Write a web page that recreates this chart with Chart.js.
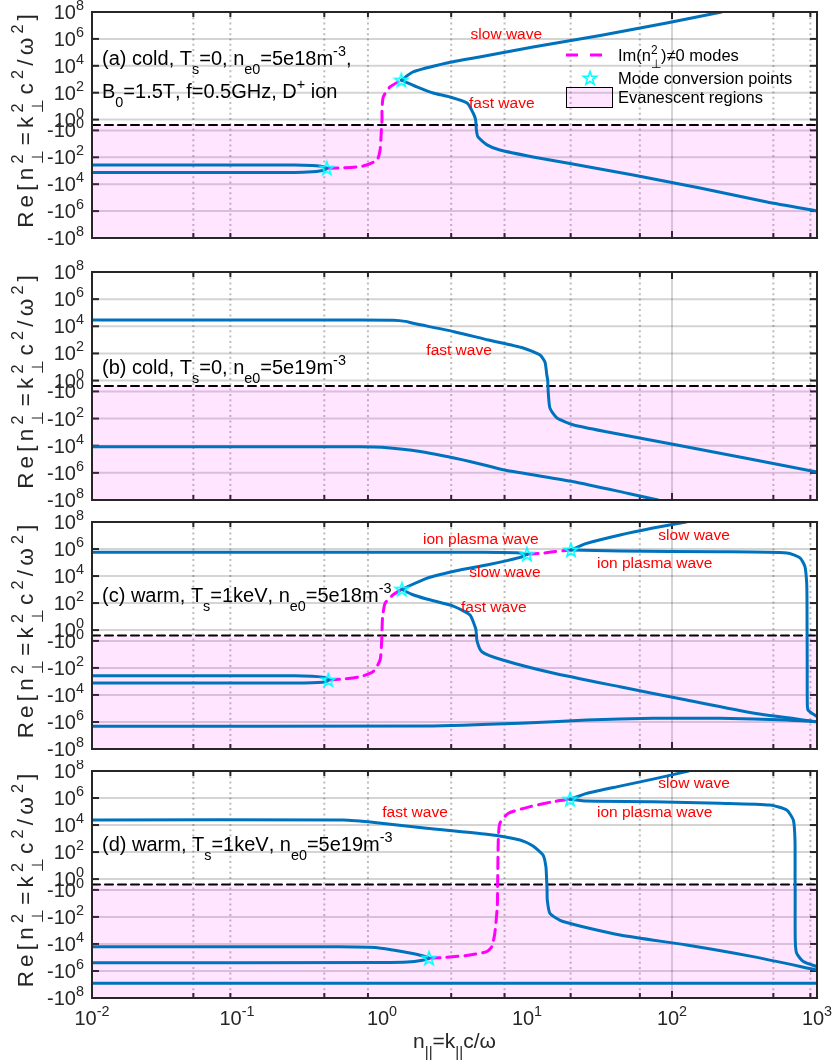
<!DOCTYPE html>
<html>
<head>
<meta charset="utf-8">
<script src="https://cdn.jsdelivr.net/npm/chart.js@4.4.1/dist/chart.umd.min.js"></script>
<style>
  html, body { margin: 0; padding: 0; background: #fff; }
  #fig { position: relative; width: 834px; height: 1064px; overflow: hidden; }
  #fig canvas { position: absolute; left: 0; }
</style>
</head>
<body>
<div id="fig"></div>
<script>
// axis decades (x is log10 of n_par, y is signed decades of Re n_perp^2)
const xDecades = [-2, -1, 0, 1, 2, 3];
const yDecades = [0, 2, 4, 6, 8];

// (a) cold, n_e0 = 5e18
const aSlowX = [1.36, 1.64, 2.8, 4.7, 11, 32, 92, 220];
const aSlowY = [8.5e2, 3.5e3, 1.6e4, 4.5e4, 2.5e5, 1.8e6, 1.5e7, 1e8];
const aFastX = [1.36, 1.74, 2.25, 2.94, 3.86, 4.25, 4.42, 4.48, 4.59, 5.3, 6.5, 11, 18.9, 54, 156, 452, 1000];
const aFastY = [8.5e2, 2.7e2, 95, 48, 17, 3.1, 1, -1, -3.1, -12, -29, -95, -2.7e2, -2.1e3, -1.9e4, -2.1e5, -9.8e5];
const aNoseX = [0.01, 0.25, 0.33, 0.38, 0.405, 0.416, 0.405, 0.38, 0.33, 0.25, 0.01];
const aNoseY = [-370, -372, -400, -460, -540, -660, -820, -1000, -1200, -1340, -1350];
const aImX = [0.416, 0.513, 0.74, 0.925, 0.97, 0.99, 1.0, 1.0, 1.02, 1.135, 1.36];
const aImY = [-660, -630, -450, -160, -29, -1, 1, 5.2, 48, 270, 850];
const aStarX = [0.416, 1.36];
const aStarY = [-660, 850];

// (b) cold, n_e0 = 5e19
const bFastX = [0.01, 0.7, 1.2, 1.45, 1.64, 3.14, 5.4, 9.4, 12.3, 13.3, 13.7, 13.9, 14.0, 14.4, 16.1, 21, 36, 108, 318, 1000];
const bFastY = [2.9e4, 2.9e4, 2.8e4, 2.3e4, 1.66e4, 4e3, 980, 250, 76, 23, 2.6, 1, -1, -17, -91, -300, -980, -8.9e3, -8.1e4, -8.7e5];
const bLowX = [0.01, 0.7, 1.0, 1.83, 4.1, 7.0, 21, 50, 80];
const bLowY = [-1.2e4, -1.2e4, -1.3e4, -2.7e4, -1.5e5, -6.2e5, -4.5e6, -3.3e7, -1e8];

// (c) warm, n_e0 = 5e18
const cIonLX = [0.01, 5, 8.5, 10.0];
const cIonLY = [5.7e5, 5.7e5, 5.2e5, 4.1e5];
const cSlowLX = [1.37, 2.03, 3.45, 5.27, 8.95, 10.0];
const cSlowLY = [1.05e3, 6.8e3, 2.8e4, 6.5e4, 2.4e5, 4.1e5];
const cFastX = [1.37, 1.6, 2.03, 3.1, 4.05, 4.38, 4.45, 4.52, 4.88, 6.8, 15.1, 43.8, 126, 362, 1000];
const cFastY = [1.05e3, 450, 200, 60, 13, 1.8, 1, -1, -6.3, -26, -240, -2.5e3, -2.4e4, -2.2e5, -9.5e5];
const cNoseX = [0.01, 0.25, 0.33, 0.39, 0.415, 0.427, 0.415, 0.39, 0.33, 0.25, 0.01];
const cNoseY = [-380, -382, -410, -480, -580, -780, -1000, -1150, -1270, -1315, -1320];
const cImLX = [0.427, 0.538, 0.705, 0.867, 0.97, 0.995, 1.0, 1.01, 1.05, 1.19, 1.37];
const cImLY = [-780, -660, -450, -190, -26, -1, 1, 9.8, 96, 400, 1.05e3];
const cImRX = [10.0, 12.6, 15.1, 20.1];
const cImRY = [4.1e5, 4.8e5, 6.3e5, 8.5e5];
const cSlowRX = [20.1, 25.8, 43.8, 74, 125];
const cSlowRY = [8.5e5, 2.6e6, 1.1e7, 3.6e7, 1e8];
const cIonRX = [20.1, 43.8, 214, 621, 764, 826, 849, 853, 854, 855, 856, 857, 867, 1000];
const cIonRY = [8.5e5, 7.1e5, 6.3e5, 5.1e5, 2.2e5, 4.9e4, 3.1e3, 170, 1, -1, -140, -2.4e4, -1.3e5, -4e5];
const cLowX = [0.01, 2, 8.95, 25.8, 74, 214, 621, 1000];
const cLowY = [-2.1e6, -2.0e6, -1.26e6, -7.1e5, -5.4e5, -5.4e5, -7.1e5, -9.5e5];
const cStarX = [0.427, 1.37, 10.0, 20.1];
const cStarY = [-780, 1.05e3, 4.1e5, 8.5e5];

// (d) warm, n_e0 = 5e19
const dFastX = [0.01, 0.54, 0.918, 2.03, 5.27, 8.95, 11, 12.9, 13.5, 13.65, 13.75, 13.8, 14.4, 17.7, 43.8, 126, 362, 1000];
const dFastY = [2.35e4, 2.35e4, 1.5e4, 5.8e3, 2.1e3, 780, 280, 60, 8.3, 1, -1, -5.6, -54, -220, -2.2e3, -1.2e4, -8.7e4, -8.5e5];
const dNoseX = [0.01, 0.5, 0.9, 1.19, 1.56, 1.9, 2.11, 1.9, 1.5, 1.0, 0.01];
const dNoseY = [-1.6e4, -1.6e4, -1.8e4, -2.8e4, -4.7e4, -7.5e4, -1.15e5, -1.6e5, -2.2e5, -2.4e5, -2.45e5];
const dImX = [2.11, 2.79, 4.05, 5.27, 5.71, 6.0, 6.24, 6.27, 6.28, 6.34, 6.5, 7.44, 10.5, 15.2, 19.8];
const dImY = [-1.15e5, -9.8e4, -6.6e4, -3.7e4, -1.6e4, -1.6e3, -17, -1, 1, 780, 1.35e4, 7.4e4, 2.3e5, 5.4e5, 8.1e5];
const dSlowX = [19.8, 25.8, 43.8, 74, 130];
const dSlowY = [8.1e5, 2.2e6, 7.6e6, 2.5e7, 1e8];
const dIonX = [19.8, 25.8, 74, 214, 474, 618, 687, 705, 706, 707, 708, 724, 805, 1000];
const dIonY = [8.1e5, 6e5, 5.4e5, 4.1e5, 3e5, 1.3e5, 2.3e4, 780, 1, -1, -5.1e3, -4.9e4, -2e5, -4.8e5];
const dLowX = [0.01, 1000];
const dLowY = [-8.1e6, -8.1e6];
const dStarX = [2.11, 19.8];
const dStarY = [-1.15e5, 8.1e5];

const FONT = '"Liberation Sans", Arial, Helvetica, sans-serif';
const BLUE = '#0072BD';
const MAGENTA = '#FF00FF';
const CYAN = '#00FFFF';
const PINK = 'rgba(255, 0, 255, 0.1)';
const AXIS = '#262626';
const GRID_MAJOR = 'rgba(38, 38, 38, 0.2)';
const GRID_MINOR = 'rgba(38, 38, 38, 0.3)';

const GAP = 0.4;               // half-decade gap kept around zero on the y axis
const YMAX = 8 + GAP;
const W = 834;

// signed log: +-10^k sits at +-(k + GAP)
const slog = v => (v === 0 ? 0 : Math.sign(v) * (Math.log10(Math.abs(v)) + GAP));
const pts = (xs, ys) => xs.map((x, i) => ({ x, y: slog(ys[i]) }));

const xGrid = [];
xDecades.forEach(k => {
  if (k === xDecades[xDecades.length - 1]) { xGrid.push(Math.pow(10, k)); return; }
  for (let m = 1; m <= 9; m++) xGrid.push(m * Math.pow(10, k));
});
const yGrid = yDecades.flatMap(k => [-(k + GAP), k + GAP]).sort((p, q) => p - q);
const isDecade = v => Math.abs(Math.log10(v) - Math.round(Math.log10(v))) < 1e-9;

function pentagram(r, color) {
  const c = document.createElement('canvas');
  const s = Math.ceil(r * 2 + 4);
  c.width = c.height = s;
  const g = c.getContext('2d');
  g.translate(s / 2, s / 2 + 0.5);
  g.beginPath();
  for (let i = 0; i < 10; i++) {
    const rad = i % 2 ? r * 0.4 : r;
    const ang = -Math.PI / 2 + i * Math.PI / 5;
    g.lineTo(rad * Math.cos(ang), rad * Math.sin(ang));
  }
  g.closePath();
  g.strokeStyle = color;
  g.lineWidth = 1.6;
  g.stroke();
  return c;
}
const starImg = pentagram(7, CYAN);

// tiny tex-ish text: ^{..} superscript, _{..} subscript (stacked when adjacent)
function texRuns(str) {
  const runs = [];
  let buf = '', i = 0;
  while (i < str.length) {
    const c = str[i];
    if ((c === '^' || c === '_') && str[i + 1] === '{') {
      if (buf) { runs.push({ text: buf, mode: 0 }); buf = ''; }
      const end = str.indexOf('}', i);
      runs.push({ text: str.slice(i + 2, end), mode: c === '^' ? 1 : -1 });
      i = end + 1;
    } else { buf += c; i++; }
  }
  if (buf) runs.push({ text: buf, mode: 0 });
  return runs;
}

function texLayout(ctx, str, size, spacing) {
  const glyphs = [];
  let pen = 0, scriptMode = 0, scriptStart = 0;
  for (const run of texRuns(str)) {
    const s = run.mode ? size * 0.72 : size;
    ctx.font = `${s}px ${FONT}`;
    const stacked = run.mode && scriptMode === -run.mode;
    const x0 = stacked ? scriptStart : pen;
    let cx = x0;
    for (const ch of run.text) {
      glyphs.push({ ch, x: cx, dy: run.mode * -0.45 * size, size: s });
      cx += ctx.measureText(ch).width + spacing;
    }
    if (stacked) { pen = Math.max(pen, cx); scriptMode = 0; }
    else { pen = cx; scriptMode = run.mode; scriptStart = x0; }
  }
  return { glyphs, width: pen - spacing };
}

function drawTex(ctx, str, x, y, o) {
  let lay = texLayout(ctx, str, o.size, 0);
  if (o.fit) lay = texLayout(ctx, str, o.size, (o.fit - lay.width) / (lay.glyphs.length - 1));
  const off = o.align === 'center' ? -lay.width / 2 : o.align === 'right' ? -lay.width : 0;
  ctx.fillStyle = o.color || AXIS;
  ctx.textAlign = 'left';
  ctx.textBaseline = 'alphabetic';
  lay.glyphs.forEach(g => {
    ctx.font = `${g.size}px ${FONT}`;
    ctx.fillText(g.ch, x + off + g.x, y + g.dy);
  });
}

function line(ctx, x0, y0, x1, y1) {
  ctx.beginPath(); ctx.moveTo(x0, y0); ctx.lineTo(x1, y1); ctx.stroke();
}

// MATLAB-like box axes: grid, inward ticks, labels, notes and legend
function axesPlugin(p) {
  return {
    id: 'matlabAxes',
    beforeDatasetsDraw(chart) {
      const { ctx, chartArea: a, scales: { x, y } } = chart;
      ctx.save();
      ctx.beginPath();
      ctx.rect(a.left, a.top, a.right - a.left, a.bottom - a.top);
      ctx.clip();
      x.ticks.forEach(t => {
        const px = x.getPixelForValue(t.value);
        if (px < a.left + 1 || px > a.right - 1) return;
        const major = isDecade(t.value);
        ctx.setLineDash(major ? [] : [2, 3.3]);
        ctx.lineWidth = 2;
        ctx.strokeStyle = major ? GRID_MAJOR : GRID_MINOR;
        line(ctx, px, a.top, px, a.bottom);
      });
      ctx.setLineDash([]);
      ctx.lineWidth = 2;
      ctx.strokeStyle = GRID_MAJOR;
      y.ticks.forEach(t => {
        const py = y.getPixelForValue(t.value);
        if (py < a.top + 1 || py > a.bottom - 1) return;
        line(ctx, a.left, py, a.right, py);
      });
      ctx.strokeStyle = AXIS;
      ctx.lineWidth = 2;
      x.ticks.forEach(t => {
        const px = x.getPixelForValue(t.value);
        const len = isDecade(t.value) ? 7 : 5;
        line(ctx, px, a.top, px, a.top + len);
        line(ctx, px, a.bottom, px, a.bottom - len);
      });
      y.ticks.forEach(t => {
        const py = y.getPixelForValue(t.value);
        line(ctx, a.left, py, a.left + 7, py);
        line(ctx, a.right, py, a.right - 7, py);
      });
      ctx.restore();
    },
    afterDatasetsDraw(chart) {
      const { ctx, chartArea: a, scales: { x, y } } = chart;
      ctx.save();
      ctx.strokeStyle = AXIS;
      ctx.lineWidth = 2;
      ctx.strokeRect(a.left, a.top, a.right - a.left, a.bottom - a.top);

      // y tick labels: 10^k above zero, -10^k below
      y.ticks.forEach(t => {
        const k = Math.round(Math.abs(t.value) - GAP);
        const txt = (t.value < 0 ? '-' : '') + '10^{' + k + '}';
        drawTex(ctx, txt, a.left - 8, y.getPixelForValue(t.value) + 7, { size: 20, align: 'right' });
      });

      // y title, rotated
      ctx.save();
      ctx.translate(33, (a.top + a.bottom) / 2 - 4);
      ctx.rotate(-Math.PI / 2);
      drawTex(ctx, 'Re[n^{2}_{⊥}=k^{2}_{⊥}c^{2}/ω^{2}]', 0, 0, { size: 22.5, align: 'center', fit: 222 });
      ctx.restore();

      if (p.xLabels) {
        xDecades.forEach(k => {
          drawTex(ctx, '10^{' + k + '}', x.getPixelForValue(Math.pow(10, k)), a.bottom + 27, { size: 20, align: 'center' });
        });
        drawTex(ctx, 'n_{||}=k_{||}c/ω', (a.left + a.right) / 2, a.bottom + 50, { size: 21, align: 'center' });
      }

      // panel notes
      p.notes.forEach(n => drawTex(ctx, n.text, a.left + 10, a.top + n.dy, { size: 20, color: '#000' }));

      // wave branch tags
      ctx.font = `15.5px ${FONT}`;
      ctx.fillStyle = '#FF0000';
      ctx.textAlign = 'center';
      ctx.textBaseline = 'middle';
      p.tags.forEach(tg => ctx.fillText(tg.text, x.getPixelForValue(tg.x), y.getPixelForValue(slog(tg.y))));

      if (p.legend) {
        const lx = a.left + 474, tx = a.left + 526;
        const r1 = a.top + 43, r2 = a.top + 66, r3 = a.top + 85;
        ctx.strokeStyle = MAGENTA;
        ctx.lineWidth = 3;
        ctx.setLineDash([12, 12]);
        line(ctx, lx, r1, lx + 38, r1);
        ctx.setLineDash([]);
        ctx.drawImage(starImg, lx + 24 - starImg.width / 2, r2 - starImg.height / 2);
        ctx.fillStyle = PINK;
        ctx.fillRect(lx, r3 - 10, 47, 20);
        ctx.strokeStyle = '#000';
        ctx.lineWidth = 1;
        ctx.strokeRect(lx + 0.5, r3 - 9.5, 46, 20);
        drawTex(ctx, 'Im(n^{2}_{⊥})≠0 modes', tx, r1 + 6, { size: 16.5, color: '#000' });
        drawTex(ctx, 'Mode conversion points', tx, r2 + 6, { size: 16.5, color: '#000' });
        drawTex(ctx, 'Evanescent regions', tx, r3 + 6, { size: 16.5, color: '#000' });
      }
      ctx.restore();
    }
  };
}

const panels = [
  {
    top: 0, height: 255, padTop: 12, padBottom: 17,
    blue: [[aSlowX, aSlowY], [aFastX, aFastY], [aNoseX, aNoseY]],
    magenta: [[aImX, aImY]],
    stars: [aStarX, aStarY],
    notes: [
      { text: '(a) cold, T_{s}=0, n_{e0}=5e18m^{-3},', dy: 53 },
      { text: 'B_{0}=1.5T, f=0.5GHz, D^{+} ion', dy: 86 }
    ],
    tags: [{ text: 'slow wave', x: 7.2, y: 1.9e6 }, { text: 'fast wave', x: 6.7, y: 14 }],
    legend: true, xLabels: false
  },
  {
    top: 255, height: 255, padTop: 17, padBottom: 10,
    blue: [[bFastX, bFastY], [bLowX, bLowY]],
    magenta: [],
    stars: [[], []],
    notes: [{ text: '(b) cold, T_{s}=0, n_{e0}=5e19m^{-3}', dy: 102 }],
    tags: [{ text: 'fast wave', x: 3.4, y: 150 }],
    legend: false, xLabels: false
  },
  {
    top: 510, height: 250, padTop: 12, padBottom: 11,
    blue: [[cIonLX, cIonLY], [cSlowLX, cSlowLY], [cFastX, cFastY], [cNoseX, cNoseY],
           [cSlowRX, cSlowRY], [cIonRX, cIonRY], [cLowX, cLowY]],
    magenta: [[cImLX, cImLY], [cImRX, cImRY]],
    stars: [cStarX, cStarY],
    notes: [{ text: '(c) warm, T_{s}=1keV, n_{e0}=5e18m^{-3}', dy: 80 }],
    tags: [
      { text: 'ion plasma wave', x: 4.8, y: 4.7e6 },
      { text: 'slow wave', x: 7.05, y: 1.7e4 },
      { text: 'fast wave', x: 5.9, y: 44 },
      { text: 'slow wave', x: 142, y: 9.2e6 },
      { text: 'ion plasma wave', x: 76, y: 7.8e4 }
    ],
    legend: false, xLabels: false
  },
  {
    top: 760, height: 304, padTop: 11, padBottom: 66,
    blue: [[dFastX, dFastY], [dNoseX, dNoseY], [dSlowX, dSlowY], [dIonX, dIonY], [dLowX, dLowY]],
    magenta: [[dImX, dImY]],
    stars: [dStarX, dStarY],
    notes: [{ text: '(d) warm, T_{s}=1keV, n_{e0}=5e19m^{-3}', dy: 80 }],
    tags: [
      { text: 'fast wave', x: 1.69, y: 7.8e4 },
      { text: 'slow wave', x: 142, y: 1.1e7 },
      { text: 'ion plasma wave', x: 76, y: 7.8e4 }
    ],
    legend: false, xLabels: true
  }
];

function buildDatasets(p) {
  const sets = [{
    // zero line; everything below it is evanescent
    data: [{ x: 0.01, y: 0 }, { x: 1000, y: 0 }],
    borderColor: '#000', borderWidth: 2, borderDash: [8, 5],
    fill: 'start', backgroundColor: PINK, tension: 0, order: 4
  }];
  p.magenta.forEach(([xs, ys]) => sets.push({
    data: pts(xs, ys), borderColor: MAGENTA, borderWidth: 3, borderDash: [11, 7], order: 2
  }));
  p.blue.forEach(([xs, ys]) => sets.push({
    data: pts(xs, ys), borderColor: BLUE, borderWidth: 3, order: 1
  }));
  sets.push({
    data: pts(p.stars[0], p.stars[1]), showLine: false,
    pointStyle: starImg, pointRadius: 7, order: 0
  });
  return sets;
}

const fig = document.getElementById('fig');
panels.forEach(p => {
  const cv = document.createElement('canvas');
  cv.width = W;
  cv.height = p.height;
  cv.style.width = W + 'px';
  cv.style.height = p.height + 'px';
  cv.style.top = p.top + 'px';
  fig.appendChild(cv);
  new Chart(cv, {
    type: 'line',
    data: { datasets: buildDatasets(p) },
    options: {
      responsive: false,
      animation: false,
      devicePixelRatio: 1,
      layout: { padding: { left: 92, right: 17, top: p.padTop, bottom: p.padBottom } },
      plugins: { legend: { display: false }, tooltip: { enabled: false } },
      elements: {
        point: { radius: 0 },
        line: { tension: 0.2, borderCapStyle: 'round', borderJoinStyle: 'round', fill: false }
      },
      scales: {
        x: {
          type: 'logarithmic', min: 0.01, max: 1000, display: false,
          afterBuildTicks: ax => { ax.ticks = xGrid.map(v => ({ value: v })); }
        },
        y: {
          type: 'linear', min: -YMAX, max: YMAX, display: false,
          afterBuildTicks: ax => { ax.ticks = yGrid.map(v => ({ value: v })); }
        }
      }
    },
    plugins: [axesPlugin(p)]
  });
});
</script>
</body>
</html>
